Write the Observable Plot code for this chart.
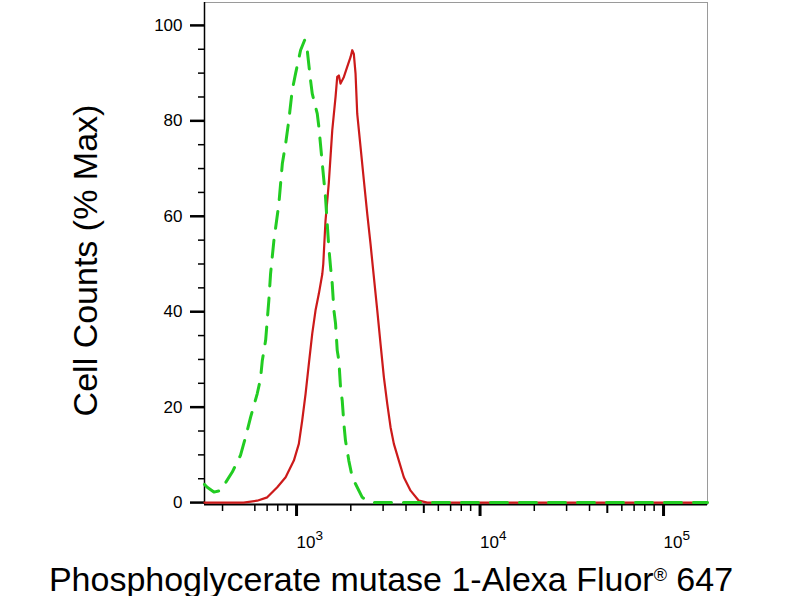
<!DOCTYPE html>
<html>
<head>
<meta charset="utf-8">
<script src="https://cdn.jsdelivr.net/npm/d3@7"></script>
<script src="https://cdn.jsdelivr.net/npm/@observablehq/plot@0.6"></script>
<style>
  body { margin: 0; background: #fff; font-family: "Liberation Sans", Arial, sans-serif; }
  #chart svg { display: block; }
  #caption { width: 782px; text-align: center; font-size: 34px; line-height: 34px; color: #000; white-space: nowrap; }
  #caption sup { font-size: 18px; line-height: 0; vertical-align: 10px; }
</style>
</head>
<body>
<div id="chart"></div>
<div id="caption">Phosphoglycerate mutase 1-Alexa Fluor<sup>®</sup> 647</div>
<script>
// control (isotype) histogram, green dashed
const controlX = [319, 330, 359, 390, 452, 501, 534, 569, 618, 644, 659, 687, 701, 715, 731, 762, 811, 847, 883, 919, 959, 1000, 1065, 1120, 1158, 1207, 1233, 1313, 1340, 1399, 1456, 1488, 1518, 1552, 1585, 1618, 1652, 1687, 1722, 1758, 1796, 1834, 1871, 1951, 2037, 2309, 2459, 2673, 175800];
const controlY = [3.8, 3.2, 2.2, 2.5, 6.4, 9.9, 13.7, 17.9, 22.8, 25.9, 29.8, 34, 38.2, 42.3, 48, 54.9, 62.6, 71, 75.2, 80.1, 86.4, 89.9, 94.8, 96.9, 94.8, 88.5, 85.7, 81.5, 78.7, 71, 64, 58.4, 53.5, 49.3, 45.8, 40.3, 37.5, 31.9, 29.8, 24.2, 21.4, 16.5, 13, 8.8, 5.3, 1.1, 0.4, 0, 0];

// stained sample histogram, red solid
const sampleX = [319, 521, 618, 701, 795, 883, 979, 1042, 1087, 1134, 1182, 1233, 1285, 1340, 1399, 1416, 1456, 1518, 1585, 1652, 1687, 1722, 1758, 1834, 1912, 1995, 2037, 2078, 2123, 2168, 2261, 2357, 2459, 2562, 2650, 2788, 2904, 3029, 3161, 3294, 3434, 3655, 3892, 4236, 4697, 5222, 175800];
const sampleY = [0, 0, 0.4, 1.1, 3.2, 5.3, 8.8, 12.3, 17.2, 22.8, 29.1, 35.4, 40.3, 43.8, 47.9, 50, 59, 67, 78, 85, 89.2, 89.5, 87.8, 89.2, 91.3, 93.4, 94.8, 94, 89.9, 81.5, 74.5, 67.5, 60.5, 54.2, 48.6, 40.3, 33.3, 26.3, 20.7, 15.8, 12.3, 8.8, 5.3, 2.5, 0.4, 0, 0];

// axes
const xDomain = [319, 175800];
const yDomain = [-0.4, 104.8];
const xTicks = [1e3, 1e4, 1e5];
const xMidTicks = [5e3, 5e4];
const xMinorTicks = [400, 600, 700, 800, 900, 2e3, 3e3, 4e3, 6e3, 7e3, 8e3, 9e3, 2e4, 3e4, 4e4, 6e4, 7e4, 8e4, 9e4];
const yTicks = [0, 20, 40, 60, 80, 100];
const yMinorTicks = [5, 10, 15, 25, 30, 35, 45, 50, 55, 65, 70, 75, 85, 90, 95];
const yTitle = ["Cell Counts (% Max)"];

const control = controlX.map((x, i) => ({ x, y: controlY[i] }));
const sample = sampleX.map((x, i) => ({ x, y: sampleY[i] }));

const chart = Plot.plot({
  width: 800,
  height: 562,
  marginTop: 2,
  marginBottom: 58,
  marginLeft: 204,
  marginRight: 93,
  style: { fontFamily: '"Liberation Sans", Arial, sans-serif', background: "#fff", color: "#000" },
  x: { type: "log", domain: xDomain },
  y: { domain: yDomain },
  marks: [
    Plot.frame({ stroke: "#9a9a9a", strokeWidth: 1 }),
    Plot.ruleX([xDomain[0]], { stroke: "#000", strokeWidth: 1.5 }),
    Plot.ruleY([yDomain[0]], { stroke: "#000", strokeWidth: 2 }),
    // y axis ticks
    Plot.axisY({ ticks: yMinorTicks, tickSize: 6, tickFormat: () => "", strokeWidth: 1.5, label: null }),
    Plot.axisY({ ticks: yTicks, tickSize: 14, tickPadding: 8, strokeWidth: 2.5, fontSize: 17, label: null }),
    // x axis ticks
    Plot.axisX({ ticks: xMinorTicks, tickSize: 7, tickFormat: () => "", strokeWidth: 1.5, label: null }),
    Plot.axisX({ ticks: xMidTicks, tickSize: 9, tickFormat: () => "", strokeWidth: 2, label: null }),
    Plot.axisX({ ticks: xTicks, tickSize: 12, tickPadding: 19, strokeWidth: 3, fontSize: 17,
      textAnchor: "start", dx: 1, tickFormat: d => "10^" + Math.round(Math.log10(d)), label: null }),
    // histograms
    Plot.line(sample, { x: "x", y: "y", stroke: "#cc1a1a", strokeWidth: 2.2 }),
    Plot.line(control, { x: "x", y: "y", stroke: "#22cc22", strokeWidth: 3, strokeDasharray: "17,12" }),
    Plot.text(yTitle, { text: d => d, frameAnchor: "left", textAnchor: "middle", rotate: -90, dx: -118, dy: 7, fontSize: 34, fill: "#000" })
  ]
});

// turn "10^3" into 10 with a raised exponent
d3.select(chart).selectAll('g[aria-label="x-axis tick label"] text').each(function () {
  const parts = this.textContent.split("^");
  if (parts.length < 2) return;
  this.textContent = parts[0];
  d3.select(this).append("tspan").attr("dy", "-0.55em").attr("font-size", "0.8em").text(parts[1]);
});

document.getElementById("chart").appendChild(chart);
</script>
</body>
</html>
